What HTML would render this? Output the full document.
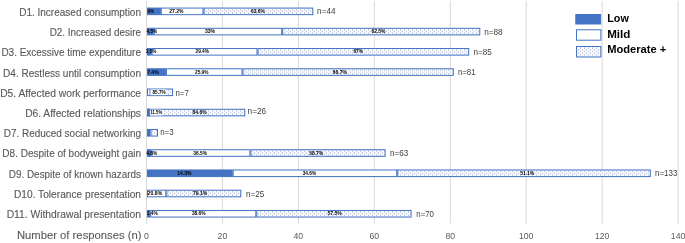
<!DOCTYPE html><html><head><meta charset="utf-8"><style>html,body{margin:0;padding:0;background:#fff;width:685px;height:243px;overflow:hidden}svg{display:block}text{font-family:"Liberation Sans",sans-serif}</style></head><body>
<svg style="will-change:transform" width="685" height="243" viewBox="0 0 685 243">
<defs><pattern id="dots0" x="0" y="8.75" width="4" height="3.4" patternUnits="userSpaceOnUse"><rect width="4" height="3.4" fill="#fff"/><circle cx="0.5" cy="0.85" r="0.72" fill="#A6B2D0"/><circle cx="2.5" cy="2.55" r="0.72" fill="#A6B2D0"/></pattern><pattern id="dots1" x="0" y="28.99" width="4" height="3.4" patternUnits="userSpaceOnUse"><rect width="4" height="3.4" fill="#fff"/><circle cx="0.5" cy="0.85" r="0.72" fill="#A6B2D0"/><circle cx="2.5" cy="2.55" r="0.72" fill="#A6B2D0"/></pattern><pattern id="dots2" x="0" y="49.23" width="4" height="3.4" patternUnits="userSpaceOnUse"><rect width="4" height="3.4" fill="#fff"/><circle cx="0.5" cy="0.85" r="0.72" fill="#A6B2D0"/><circle cx="2.5" cy="2.55" r="0.72" fill="#A6B2D0"/></pattern><pattern id="dots3" x="0" y="69.47" width="4" height="3.4" patternUnits="userSpaceOnUse"><rect width="4" height="3.4" fill="#fff"/><circle cx="0.5" cy="0.85" r="0.72" fill="#A6B2D0"/><circle cx="2.5" cy="2.55" r="0.72" fill="#A6B2D0"/></pattern><pattern id="dots4" x="0" y="89.71" width="4" height="3.4" patternUnits="userSpaceOnUse"><rect width="4" height="3.4" fill="#fff"/><circle cx="0.5" cy="0.85" r="0.72" fill="#A6B2D0"/><circle cx="2.5" cy="2.55" r="0.72" fill="#A6B2D0"/></pattern><pattern id="dots5" x="0" y="109.95" width="4" height="3.4" patternUnits="userSpaceOnUse"><rect width="4" height="3.4" fill="#fff"/><circle cx="0.5" cy="0.85" r="0.72" fill="#A6B2D0"/><circle cx="2.5" cy="2.55" r="0.72" fill="#A6B2D0"/></pattern><pattern id="dots6" x="0" y="130.19" width="4" height="3.4" patternUnits="userSpaceOnUse"><rect width="4" height="3.4" fill="#fff"/><circle cx="0.5" cy="0.85" r="0.72" fill="#A6B2D0"/><circle cx="2.5" cy="2.55" r="0.72" fill="#A6B2D0"/></pattern><pattern id="dots7" x="0" y="150.43" width="4" height="3.4" patternUnits="userSpaceOnUse"><rect width="4" height="3.4" fill="#fff"/><circle cx="0.5" cy="0.85" r="0.72" fill="#A6B2D0"/><circle cx="2.5" cy="2.55" r="0.72" fill="#A6B2D0"/></pattern><pattern id="dots8" x="0" y="170.67" width="4" height="3.4" patternUnits="userSpaceOnUse"><rect width="4" height="3.4" fill="#fff"/><circle cx="0.5" cy="0.85" r="0.72" fill="#A6B2D0"/><circle cx="2.5" cy="2.55" r="0.72" fill="#A6B2D0"/></pattern><pattern id="dots9" x="0" y="190.91" width="4" height="3.4" patternUnits="userSpaceOnUse"><rect width="4" height="3.4" fill="#fff"/><circle cx="0.5" cy="0.85" r="0.72" fill="#A6B2D0"/><circle cx="2.5" cy="2.55" r="0.72" fill="#A6B2D0"/></pattern><pattern id="dots10" x="0" y="211.15" width="4" height="3.4" patternUnits="userSpaceOnUse"><rect width="4" height="3.4" fill="#fff"/><circle cx="0.5" cy="0.85" r="0.72" fill="#A6B2D0"/><circle cx="2.5" cy="2.55" r="0.72" fill="#A6B2D0"/></pattern><pattern id="dots11" x="0" y="47.20" width="4" height="3.4" patternUnits="userSpaceOnUse"><rect width="4" height="3.4" fill="#fff"/><circle cx="0.5" cy="0.85" r="0.72" fill="#A6B2D0"/><circle cx="2.5" cy="2.55" r="0.72" fill="#A6B2D0"/></pattern></defs>
<line x1="146.50" y1="1" x2="146.50" y2="223.6" stroke="#D9D9D9" stroke-width="1"/>
<line x1="222.44" y1="1" x2="222.44" y2="223.6" stroke="#D9D9D9" stroke-width="1"/>
<line x1="298.38" y1="1" x2="298.38" y2="223.6" stroke="#D9D9D9" stroke-width="1"/>
<line x1="374.32" y1="1" x2="374.32" y2="223.6" stroke="#D9D9D9" stroke-width="1"/>
<line x1="450.26" y1="1" x2="450.26" y2="223.6" stroke="#D9D9D9" stroke-width="1"/>
<line x1="526.20" y1="1" x2="526.20" y2="223.6" stroke="#D9D9D9" stroke-width="1"/>
<line x1="602.14" y1="1" x2="602.14" y2="223.6" stroke="#D9D9D9" stroke-width="1"/>
<line x1="678.08" y1="1" x2="678.08" y2="223.6" stroke="#D9D9D9" stroke-width="1"/>
<rect x="147.50" y="8.05" width="12.80" height="6.60" fill="#4472C4" stroke="#4472C4" stroke-width="1"/>
<rect x="161.30" y="8.05" width="41.70" height="6.60" fill="#fff" stroke="#4472C4" stroke-width="1"/>
<rect x="204.00" y="8.05" width="108.80" height="6.60" fill="url(#dots0)" stroke="#4472C4" stroke-width="1"/>
<text x="147.50" y="12.95" font-size="4.5" font-weight="bold" fill="#000" textLength="6.60" lengthAdjust="spacingAndGlyphs">9%</text>
<text x="169.30" y="12.95" font-size="4.5" font-weight="bold" fill="#000" textLength="14.20" lengthAdjust="spacingAndGlyphs">27.2%</text>
<text x="251.00" y="12.95" font-size="4.5" font-weight="bold" fill="#000" textLength="13.70" lengthAdjust="spacingAndGlyphs">63.6%</text>
<text x="317.10" y="14.30" font-size="8.4" fill="#404040" textLength="18.45" lengthAdjust="spacingAndGlyphs">n=44</text>
<rect x="147.50" y="28.29" width="5.70" height="6.60" fill="#4472C4" stroke="#4472C4" stroke-width="1"/>
<rect x="154.20" y="28.29" width="127.50" height="6.60" fill="#fff" stroke="#4472C4" stroke-width="1"/>
<rect x="282.70" y="28.29" width="197.10" height="6.60" fill="url(#dots1)" stroke="#4472C4" stroke-width="1"/>
<text x="146.50" y="33.19" font-size="4.5" font-weight="bold" fill="#000" textLength="10.70" lengthAdjust="spacingAndGlyphs">4.5%</text>
<text x="204.90" y="33.19" font-size="4.5" font-weight="bold" fill="#000" textLength="10.30" lengthAdjust="spacingAndGlyphs">33%</text>
<text x="371.50" y="33.19" font-size="4.5" font-weight="bold" fill="#000" textLength="13.90" lengthAdjust="spacingAndGlyphs">62.5%</text>
<text x="484.20" y="34.70" font-size="8.4" fill="#404040" textLength="18.45" lengthAdjust="spacingAndGlyphs">n=88</text>
<rect x="147.50" y="48.53" width="3.60" height="6.60" fill="#4472C4" stroke="#4472C4" stroke-width="1"/>
<rect x="152.10" y="48.53" width="104.90" height="6.60" fill="#fff" stroke="#4472C4" stroke-width="1"/>
<rect x="258.00" y="48.53" width="210.70" height="6.60" fill="url(#dots2)" stroke="#4472C4" stroke-width="1"/>
<text x="145.80" y="53.43" font-size="4.5" font-weight="bold" fill="#000" textLength="10.50" lengthAdjust="spacingAndGlyphs">3.5%</text>
<text x="195.50" y="53.43" font-size="4.5" font-weight="bold" fill="#000" textLength="13.40" lengthAdjust="spacingAndGlyphs">29.4%</text>
<text x="353.40" y="53.43" font-size="4.5" font-weight="bold" fill="#000" textLength="9.60" lengthAdjust="spacingAndGlyphs">67%</text>
<text x="473.50" y="54.80" font-size="8.4" fill="#404040" textLength="18.25" lengthAdjust="spacingAndGlyphs">n=85</text>
<rect x="147.50" y="68.77" width="17.90" height="6.60" fill="#4472C4" stroke="#4472C4" stroke-width="1"/>
<rect x="166.40" y="68.77" width="75.60" height="6.60" fill="#fff" stroke="#4472C4" stroke-width="1"/>
<rect x="243.00" y="68.77" width="210.30" height="6.60" fill="url(#dots3)" stroke="#4472C4" stroke-width="1"/>
<text x="147.20" y="73.67" font-size="4.5" font-weight="bold" fill="#000" textLength="11.40" lengthAdjust="spacingAndGlyphs">7.4%</text>
<text x="195.00" y="73.67" font-size="4.5" font-weight="bold" fill="#000" textLength="13.50" lengthAdjust="spacingAndGlyphs">25.9%</text>
<text x="332.80" y="73.67" font-size="4.5" font-weight="bold" fill="#000" textLength="14.10" lengthAdjust="spacingAndGlyphs">66.7%</text>
<text x="457.90" y="75.20" font-size="8.4" fill="#404040" textLength="17.75" lengthAdjust="spacingAndGlyphs">n=81</text>
<rect x="147.50" y="89.01" width="2.50" height="6.60" fill="#fff" stroke="#4472C4" stroke-width="1"/>
<rect x="151.00" y="89.01" width="21.60" height="6.60" fill="url(#dots4)" stroke="#4472C4" stroke-width="1"/>
<rect x="150.50" y="89.51" width="15.80" height="5.60" fill="#fff"/>
<text x="152.50" y="93.91" font-size="4.5" font-weight="bold" fill="#000" textLength="13.10" lengthAdjust="spacingAndGlyphs">85.7%</text>
<text x="175.50" y="95.50" font-size="8.4" fill="#404040" textLength="13.25" lengthAdjust="spacingAndGlyphs">n=7</text>
<rect x="147.50" y="109.25" width="97.30" height="6.60" fill="url(#dots5)" stroke="#4472C4" stroke-width="1"/>
<rect x="147.50" y="109.25" width="2.20" height="6.60" fill="#4472C4" stroke="#4472C4" stroke-width="1"/>
<rect x="150.20" y="109.75" width="12.20" height="5.60" fill="#fff"/>
<text x="150.50" y="114.15" font-size="4.5" font-weight="bold" fill="#000" textLength="11.60" lengthAdjust="spacingAndGlyphs">11.5%</text>
<text x="192.50" y="114.15" font-size="4.5" font-weight="bold" fill="#000" textLength="14.10" lengthAdjust="spacingAndGlyphs">84.6%</text>
<text x="247.50" y="114.10" font-size="8.4" fill="#404040" textLength="18.75" lengthAdjust="spacingAndGlyphs">n=26</text>
<rect x="147.50" y="129.49" width="2.50" height="6.60" fill="#4472C4" stroke="#4472C4" stroke-width="1"/>
<rect x="151.00" y="129.49" width="6.50" height="6.60" fill="url(#dots6)" stroke="#4472C4" stroke-width="1"/>
<text x="160.20" y="134.70" font-size="8.4" fill="#404040" textLength="13.45" lengthAdjust="spacingAndGlyphs">n=3</text>
<rect x="147.50" y="149.73" width="3.40" height="6.60" fill="#4472C4" stroke="#4472C4" stroke-width="1"/>
<rect x="151.90" y="149.73" width="98.00" height="6.60" fill="#fff" stroke="#4472C4" stroke-width="1"/>
<rect x="250.90" y="149.73" width="134.20" height="6.60" fill="url(#dots7)" stroke="#4472C4" stroke-width="1"/>
<text x="146.30" y="154.63" font-size="4.5" font-weight="bold" fill="#000" textLength="11.10" lengthAdjust="spacingAndGlyphs">4.8%</text>
<text x="193.20" y="154.63" font-size="4.5" font-weight="bold" fill="#000" textLength="13.90" lengthAdjust="spacingAndGlyphs">36.5%</text>
<text x="309.20" y="154.63" font-size="4.5" font-weight="bold" fill="#000" textLength="14.10" lengthAdjust="spacingAndGlyphs">58.7%</text>
<text x="390.10" y="155.70" font-size="8.4" fill="#404040" textLength="18.25" lengthAdjust="spacingAndGlyphs">n=63</text>
<rect x="147.50" y="169.97" width="84.70" height="6.60" fill="#4472C4" stroke="#4472C4" stroke-width="1"/>
<rect x="233.20" y="169.97" width="163.50" height="6.60" fill="#fff" stroke="#4472C4" stroke-width="1"/>
<rect x="397.70" y="169.97" width="252.60" height="6.60" fill="url(#dots8)" stroke="#4472C4" stroke-width="1"/>
<text x="177.20" y="174.87" font-size="4.5" font-weight="bold" fill="#000" textLength="14.40" lengthAdjust="spacingAndGlyphs">14.3%</text>
<text x="302.70" y="174.87" font-size="4.5" font-weight="bold" fill="#000" textLength="13.50" lengthAdjust="spacingAndGlyphs">34.6%</text>
<text x="520.20" y="174.87" font-size="4.5" font-weight="bold" fill="#000" textLength="13.90" lengthAdjust="spacingAndGlyphs">51.1%</text>
<text x="655.00" y="175.70" font-size="8.4" fill="#404040" textLength="22.35" lengthAdjust="spacingAndGlyphs">n=133</text>
<rect x="147.50" y="190.21" width="18.30" height="6.60" fill="#fff" stroke="#4472C4" stroke-width="1"/>
<rect x="166.80" y="190.21" width="74.00" height="6.60" fill="url(#dots9)" stroke="#4472C4" stroke-width="1"/>
<text x="147.60" y="195.11" font-size="4.5" font-weight="bold" fill="#000" textLength="14.70" lengthAdjust="spacingAndGlyphs">20.8%</text>
<text x="192.90" y="195.11" font-size="4.5" font-weight="bold" fill="#000" textLength="14.30" lengthAdjust="spacingAndGlyphs">79.1%</text>
<text x="246.10" y="196.70" font-size="8.4" fill="#404040" textLength="18.25" lengthAdjust="spacingAndGlyphs">n=25</text>
<rect x="147.50" y="210.45" width="2.20" height="6.60" fill="#4472C4" stroke="#4472C4" stroke-width="1"/>
<rect x="150.70" y="210.45" width="105.10" height="6.60" fill="#fff" stroke="#4472C4" stroke-width="1"/>
<rect x="256.80" y="210.45" width="154.30" height="6.60" fill="url(#dots10)" stroke="#4472C4" stroke-width="1"/>
<text x="146.80" y="215.35" font-size="4.5" font-weight="bold" fill="#000" textLength="10.80" lengthAdjust="spacingAndGlyphs">1.4%</text>
<text x="191.90" y="215.35" font-size="4.5" font-weight="bold" fill="#000" textLength="13.70" lengthAdjust="spacingAndGlyphs">38.6%</text>
<text x="327.50" y="215.35" font-size="4.5" font-weight="bold" fill="#000" textLength="14.20" lengthAdjust="spacingAndGlyphs">57.5%</text>
<text x="416.30" y="216.50" font-size="8.4" fill="#404040" textLength="17.55" lengthAdjust="spacingAndGlyphs">n=70</text>
<text x="141" y="15.90" font-size="10" fill="#595959" stroke="#595959" stroke-width="0.12" text-anchor="end" textLength="121.83" lengthAdjust="spacingAndGlyphs">D1. Increased consumption</text>
<text x="141" y="36.10" font-size="10" fill="#595959" stroke="#595959" stroke-width="0.12" text-anchor="end" textLength="91.27" lengthAdjust="spacingAndGlyphs">D2. Increased desire</text>
<text x="141" y="56.30" font-size="10" fill="#595959" stroke="#595959" stroke-width="0.12" text-anchor="end" textLength="139.58" lengthAdjust="spacingAndGlyphs">D3. Excessive time expenditure</text>
<text x="141" y="76.50" font-size="10" fill="#595959" stroke="#595959" stroke-width="0.12" text-anchor="end" textLength="137.91" lengthAdjust="spacingAndGlyphs">D4. Restless until consumption</text>
<text x="141" y="96.70" font-size="10" fill="#595959" stroke="#595959" stroke-width="0.12" text-anchor="end" textLength="140.84" lengthAdjust="spacingAndGlyphs">D5. Affected work performance</text>
<text x="141" y="116.90" font-size="10" fill="#595959" stroke="#595959" stroke-width="0.12" text-anchor="end" textLength="115.85" lengthAdjust="spacingAndGlyphs">D6. Affected relationships</text>
<text x="141" y="137.10" font-size="10" fill="#595959" stroke="#595959" stroke-width="0.12" text-anchor="end" textLength="137.26" lengthAdjust="spacingAndGlyphs">D7. Reduced social networking</text>
<text x="141" y="157.30" font-size="10" fill="#595959" stroke="#595959" stroke-width="0.12" text-anchor="end" textLength="138.62" lengthAdjust="spacingAndGlyphs">D8. Despite of bodyweight gain</text>
<text x="141" y="177.50" font-size="10" fill="#595959" stroke="#595959" stroke-width="0.12" text-anchor="end" textLength="132.21" lengthAdjust="spacingAndGlyphs">D9. Despite of known hazards</text>
<text x="141" y="197.70" font-size="10" fill="#595959" stroke="#595959" stroke-width="0.12" text-anchor="end" textLength="127.03" lengthAdjust="spacingAndGlyphs">D10. Tolerance presentation</text>
<text x="141" y="217.90" font-size="10" fill="#595959" stroke="#595959" stroke-width="0.12" text-anchor="end" textLength="134.35" lengthAdjust="spacingAndGlyphs">D11. Withdrawal presentation</text>
<text x="141.5" y="238.6" font-size="11.8" textLength="124.6" lengthAdjust="spacingAndGlyphs" fill="#595959" stroke="#595959" stroke-width="0.12" text-anchor="end">Number of responses (n)</text>
<text x="146.50" y="238.8" font-size="8.7" fill="#595959" text-anchor="middle">0</text>
<text x="222.44" y="238.8" font-size="8.7" fill="#595959" text-anchor="middle">20</text>
<text x="298.38" y="238.8" font-size="8.7" fill="#595959" text-anchor="middle">40</text>
<text x="374.32" y="238.8" font-size="8.7" fill="#595959" text-anchor="middle">60</text>
<text x="450.26" y="238.8" font-size="8.7" fill="#595959" text-anchor="middle">80</text>
<text x="526.20" y="238.8" font-size="8.7" fill="#595959" text-anchor="middle">100</text>
<text x="602.14" y="238.8" font-size="8.7" fill="#595959" text-anchor="middle">120</text>
<text x="678.08" y="238.8" font-size="8.7" fill="#595959" text-anchor="middle">140</text>
<rect x="575.80" y="14.50" width="24.90" height="9.50" fill="#4472C4" stroke="#4472C4" stroke-width="1"/>
<text x="607.2" y="22.30" font-size="11" font-weight="bold" fill="#000" textLength="21.6" lengthAdjust="spacingAndGlyphs">Low</text>
<rect x="576.50" y="29.80" width="24.40" height="10.40" fill="#fff" stroke="#4472C4" stroke-width="1"/>
<text x="607.2" y="37.70" font-size="11" font-weight="bold" fill="#000" textLength="23.2" lengthAdjust="spacingAndGlyphs">Mild</text>
<rect x="576.50" y="46.50" width="24.40" height="10.50" fill="url(#dots11)" stroke="#4472C4" stroke-width="1"/>
<text x="607.2" y="53.30" font-size="11" font-weight="bold" fill="#000" textLength="59" lengthAdjust="spacingAndGlyphs">Moderate +</text>
</svg></body></html>
